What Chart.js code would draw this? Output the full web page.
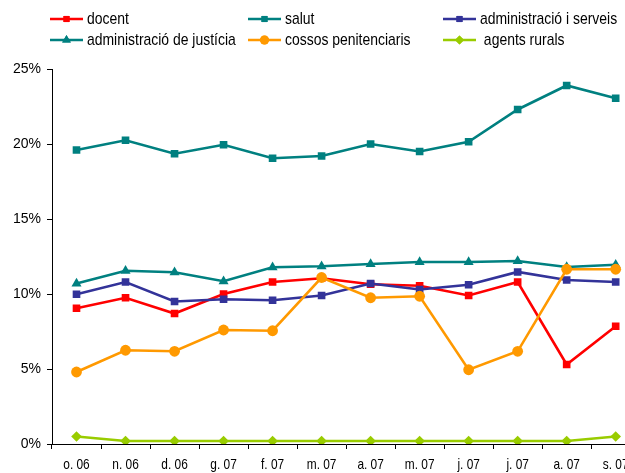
<!DOCTYPE html>
<html><head><meta charset="utf-8">
<script src="https://cdn.jsdelivr.net/npm/chart.js@4"></script>
<style>html,body{margin:0;padding:0;background:#fff;overflow:hidden}canvas{display:block}</style>
</head><body><canvas id="c" width="646" height="473" style="width:646px;height:473px"></canvas>
<script>
const categories = ['o. 06','n. 06','d. 06','g. 07','f. 07','m. 07','a. 07','m. 07','j. 07','j. 07','a. 07','s. 07'];
const docent = [9.05,9.75,8.7,10.0,10.8,11.05,10.65,10.55,9.9,10.8,5.3,7.85];
const salut = [19.6,20.25,19.35,19.95,19.05,19.2,20.0,19.5,20.15,22.3,23.9,23.05];
const administracioServeis = [9.98,10.8,9.5,9.65,9.58,9.9,10.7,10.3,10.62,11.47,10.93,10.8];
const administracioJusticia = [10.7,11.55,11.45,10.85,11.78,11.85,12.0,12.13,12.13,12.2,11.8,11.95];
const cossosPenitenciaris = [4.8,6.25,6.18,7.6,7.55,11.1,9.75,9.85,4.95,6.18,11.65,11.65];
const agentsRurals = [0.5,0.2,0.2,0.2,0.2,0.2,0.2,0.2,0.2,0.2,0.2,0.5];
const yTicks = [0,5,10,15,20,25];
const seriesNames = ['docent','salut','administració i serveis','administració de justícia','cossos penitenciaris',' agents rurals'];

const styles = [
  {color:'#FF0000', point:'rect', r:5.4, lr:4.3},
  {color:'#008080', point:'rect', r:5.4, lr:4.3},
  {color:'#333399', point:'rect', r:5.4, lr:4.3},
  {color:'#008080', point:'triangle', r:5.8, lr:5},
  {color:'#FF9900', point:'circle', r:5.4, lr:4.5},
  {color:'#99CC00', point:'rectRot', r:5.3, lr:4.5}
];
const seriesData = [docent, salut, administracioServeis, administracioJusticia, cossosPenitenciaris, agentsRurals];

const datasets = seriesData.map((d,i)=>({
  label: seriesNames[i], data: d,
  borderColor: styles[i].color, backgroundColor: styles[i].color,
  pointStyle: styles[i].point, pointRadius: styles[i].r, pointHoverRadius: styles[i].r,
  pointBorderWidth: 0, borderWidth: 2.6, tension: 0, order: 6 - i
}));

const NARROW = 0.82;
function narrowText(ctx, text, x, y, size, align){
  ctx.save();
  ctx.font = size + 'px "Liberation Sans", Arial, sans-serif';
  ctx.textBaseline = 'middle';
  ctx.fillStyle = '#000';
  ctx.translate(x, y);
  ctx.scale(NARROW, 1);
  ctx.textAlign = align;
  ctx.fillText(text, 0, 0);
  ctx.restore();
}

const legendPlugin = {
  id:'gridLegend',
  afterDraw(chart){
    const ctx = chart.ctx;
    const cols = [50, 248, 443];
    const rows = [19, 40];
    chart.data.datasets.forEach((ds,i)=>{
      const x = cols[i%3], y = rows[Math.floor(i/3)];
      ctx.save();
      ctx.strokeStyle = ds.borderColor; ctx.lineWidth = 2.6;
      ctx.beginPath(); ctx.moveTo(x,y); ctx.lineTo(x+33,y); ctx.stroke();
      ctx.fillStyle = ds.backgroundColor;
      Chart.helpers.drawPoint(ctx, {pointStyle: ds.pointStyle, radius: styles[i].lr, rotation:0, borderWidth:0}, x+16.5, y);
      ctx.fill();
      ctx.restore();
      narrowText(ctx, ds.label, x+37, y, 17, 'left');
    });
    const xs = chart.scales.x;
    xs.ticks.forEach((t,i)=>{
      narrowText(chart.ctx, categories[i], xs.getPixelForTick(i), xs.top + 21, 14.5, 'center');
    });
  }
};

new Chart(document.getElementById('c'), {
  type:'line',
  data:{labels:categories, datasets},
  plugins:[legendPlugin],
  options:{
    responsive:false, maintainAspectRatio:false, animation:false,
    layout:{padding:{top:69,right:0,bottom:0,left:0}},
    plugins:{legend:{display:false}, tooltip:{enabled:false}},
    scales:{
      x:{offset:true,
        ticks:{display:false, autoSkip:false},
        grid:{offset:true, drawOnChartArea:false, drawTicks:true, tickLength:5, color:'#000'},
        border:{color:'#000', width:1},
        afterFit(s){ s.height = 29; }
      },
      y:{min:0, max:25,
        afterBuildTicks(s){ s.ticks = yTicks.map(v=>({value:v})); },
        ticks:{callback:v=>v+'%', font:{family:'"Liberation Sans", Arial, sans-serif', size:14}, color:'#000', padding:6},
        grid:{drawOnChartArea:false, drawTicks:true, tickLength:5, color:'#000'},
        border:{color:'#000', width:1},
        afterFit(s){ s.width = 52; }
      }
    }
  }
});
</script></body></html>
